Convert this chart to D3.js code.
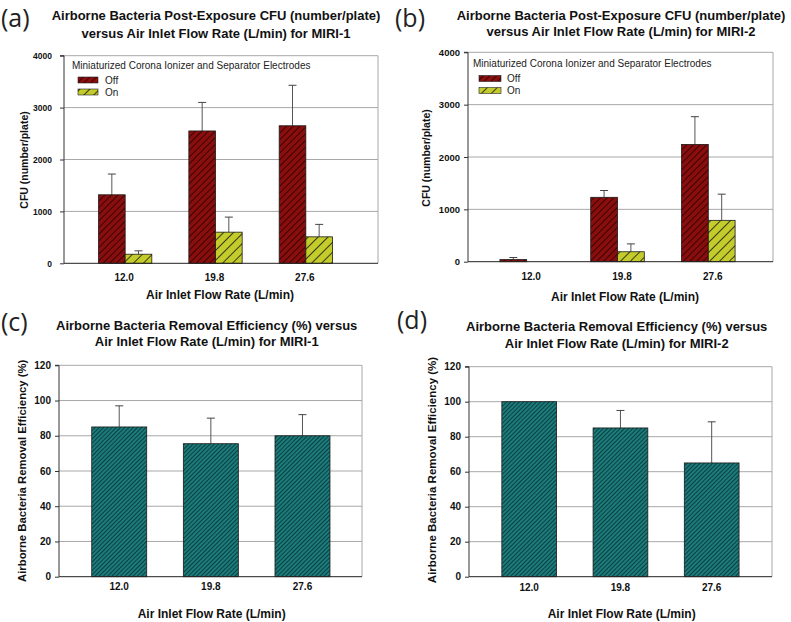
<!DOCTYPE html>
<html><head><meta charset="utf-8">
<script src="https://cdn.jsdelivr.net/npm/d3@7"></script>
<style>
body{margin:0;background:#fff}
svg{display:block}
text{font-family:"Liberation Sans",Arial,sans-serif}
</style>
</head><body>
<svg id="chart" width="791" height="622"></svg>
<script>
// ---------- data ----------
const categories = ["12.0", "19.8", "27.6"];
const seriesNames = ["Off", "On"];
const miri1Off = [1320, 2550, 2650];
const miri1OffErr = [400, 550, 780];
const miri1On = [175, 600, 510];
const miri1OnErr = [65, 290, 240];
const miri2Off = [40, 1230, 2240];
const miri2OffErr = [40, 130, 530];
const miri2On = [0, 190, 790];
const miri2OnErr = [0, 150, 500];
const eff1 = [85, 75.5, 80];
const eff1Err = [12, 14.5, 12];
const eff2 = [100, 85, 65];
const eff2Err = [0, 10, 23.5];
const cfuTicks = [0, 1000, 2000, 3000, 4000];
const effTicks = [0, 20, 40, 60, 80, 100, 120];
const legendTitle = "Miniaturized Corona Ionizer and Separator Electrodes";
const xTitle = "Air Inlet Flow Rate (L/min)";

// ---------- styles ----------
const svg = d3.select("#chart");
const defs = svg.append("defs");
function hatch(id, fill, line, spacing, lw) {
  const p = defs.append("pattern").attr("id", id)
    .attr("patternUnits", "userSpaceOnUse")
    .attr("width", spacing).attr("height", spacing)
    .attr("patternTransform", "rotate(45)");
  p.append("rect").attr("width", spacing).attr("height", spacing).attr("fill", fill);
  p.append("line").attr("x1", 0.5).attr("y1", 0).attr("x2", 0.5).attr("y2", spacing)
    .attr("stroke", line).attr("stroke-width", lw);
}
hatch("hOff", "#8a0e0e", "#3a0303", 4.7, 1);
hatch("hOn", "#c4cc2c", "#2a2a10", 7, 0.9);
hatch("hTeal", "#1c7c7c", "#0a3838", 3, 0.9);
const fills = {Off: "url(#hOff)", On: "url(#hOn)", Eff: "url(#hTeal)"};

// ---------- panel layouts ----------
const panels = [
  {letter: "(a)", lx: 1, ly: 27,
   title: ["Airborne Bacteria Post-Exposure CFU (number/plate)", "versus Air Inlet Flow Rate (L/min) for MIRI-1"],
   tx: 216, ty: [20, 37.5],
   frame: {l: 64, r: 378, t: 55.7, b: 263.3}, band: [80, 351], inner: 0.41, outer: 0.205,
   yTicks: cfuTicks, yMax: 4000, ytSize: 8.5, tickPad: 8,
   ylab: "CFU (number/plate)", ylx: 24, yly: 160, ylSize: 10.5,
   xtY: 280.5, xtDx: -1, xtSize: 10, xTitleX: 220, xTitleY: 299,
   grouped: true, series: [[miri1Off, miri1OffErr], [miri1On, miri1OnErr]],
   legend: {x: 72, y: 68.5, sx: 78, sw: 20, sy: [77, 89], tx: 105}},
  {letter: "(b)", lx: 395, ly: 27,
   title: ["Airborne Bacteria Post-Exposure CFU (number/plate)", "versus Air Inlet Flow Rate (L/min) for MIRI-2"],
   tx: 621, ty: [19.5, 36],
   frame: {l: 468, r: 773, t: 52.3, b: 261.7}, band: [481.3, 753.7], inner: 0.41, outer: 0.205,
   yTicks: cfuTicks, yMax: 4000, ytSize: 9.5, tickPad: 4,
   ylab: "CFU (number/plate)", ylx: 426, yly: 158, ylSize: 10.5,
   xtY: 279.5, xtDx: 4.5, xtSize: 10, xTitleX: 625, xTitleY: 300.5,
   grouped: true, series: [[miri2Off, miri2OffErr], [miri2On, miri2OnErr]],
   legend: {x: 473, y: 66.5, sx: 479, sw: 22, sy: [75.5, 87.5], tx: 507}},
  {letter: "(c)", lx: 1, ly: 331,
   title: ["Airborne Bacteria Removal Efficiency (%) versus", "Air Inlet Flow Rate (L/min) for MIRI-1"],
   tx: 206.7, ty: [329.6, 346],
   frame: {l: 59, r: 362, t: 365.3, b: 576.7}, band: [73.4, 348.3], inner: 0.4, outer: 0.2,
   yTicks: effTicks, yMax: 120, ytSize: 10, tickPad: 4,
   ylab: "Airborne Bacteria Removal Efficiency (%)", ylx: 22, yly: 470.8, ylSize: 11.3,
   xtY: 590, xtDx: 0, xtSize: 10, xTitleX: 211.7, xTitleY: 617.5,
   grouped: false, series: [[eff1, eff1Err]]},
  {letter: "(d)", lx: 397, ly: 329,
   title: ["Airborne Bacteria Removal Efficiency (%) versus", "Air Inlet Flow Rate (L/min) for MIRI-2"],
   tx: 616.7, ty: [331, 348],
   frame: {l: 469, r: 772, t: 366.7, b: 576.7}, band: [483.6, 757.3], inner: 0.4, outer: 0.2,
   yTicks: effTicks, yMax: 120, ytSize: 10, tickPad: 4,
   ylab: "Airborne Bacteria Removal Efficiency (%)", ylx: 431.7, yly: 470, ylSize: 11.5,
   xtY: 591, xtDx: 0, xtSize: 10, xTitleX: 621.7, xTitleY: 618,
   grouped: false, series: [[eff2, eff2Err]]}
];

function drawPanel(P) {
  const g = svg.append("g");
  const F = P.frame;
  // panel letter
  g.append("text").attr("x", P.lx).attr("y", P.ly)
    .style("font-family", "'Open Sans','Noto Sans',sans-serif").style("font-size", "25px")
    .attr("fill", "#222").text(P.letter);
  // title
  P.title.forEach((t, i) => g.append("text").attr("x", P.tx).attr("y", P.ty[i])
    .attr("text-anchor", "middle").style("font-size", "13px").style("font-weight", "bold")
    .attr("fill", "#111").text(t));

  const y = d3.scaleLinear().domain([0, P.yMax]).range([F.b, F.t]);
  const x = d3.scaleBand().domain(categories).range(P.band)
    .paddingInner(P.inner).paddingOuter(P.outer);

  // gridlines
  g.append("g").selectAll("line").data(P.yTicks.filter(d => d > 0)).join("line")
    .attr("x1", F.l).attr("x2", F.r).attr("y1", d => y(d)).attr("y2", d => y(d))
    .attr("stroke", "#a8a8a8").attr("stroke-width", 1);
  // right border
  g.append("line").attr("x1", F.r).attr("x2", F.r).attr("y1", F.t).attr("y2", F.b)
    .attr("stroke", "#a8a8a8");

  // bars
  const bars = [];
  if (P.grouped) {
    const xs = d3.scaleBand().domain(seriesNames).range([0, x.bandwidth()]);
    P.series.forEach(([vals, errs], si) => {
      categories.forEach((c, ci) => bars.push({
        x: x(c) + xs(seriesNames[si]), w: xs.bandwidth(), v: vals[ci], e: errs[ci], fill: fills[seriesNames[si]]}));
    });
  } else {
    const [vals, errs] = P.series[0];
    categories.forEach((c, ci) => bars.push({x: x(c), w: x.bandwidth(), v: vals[ci], e: errs[ci], fill: fills.Eff}));
  }
  const bg = g.append("g");
  bg.selectAll("g.err").data(bars.filter(d => d.e > 0)).join("g").attr("class", "err")
    .each(function (d) {
      const cx = d.x + d.w / 2;
      const s = d3.select(this);
      s.append("line").attr("x1", cx).attr("x2", cx).attr("y1", y(d.v)).attr("y2", y(d.v + d.e))
        .attr("stroke", "#555").attr("stroke-width", 1);
      s.append("line").attr("x1", cx - 4).attr("x2", cx + 4).attr("y1", y(d.v + d.e)).attr("y2", y(d.v + d.e))
        .attr("stroke", "#444").attr("stroke-width", 1);
    });
  bg.selectAll("rect").data(bars.filter(d => d.v > 0)).join("rect")
    .attr("x", d => d.x).attr("width", d => d.w)
    .attr("y", d => y(d.v)).attr("height", d => F.b - y(d.v))
    .attr("fill", d => d.fill).attr("stroke", "#1a1a1a").attr("stroke-width", 0.8);

  // y axis
  const ya = g.append("g").attr("transform", `translate(${F.l},0)`)
    .call(d3.axisLeft(y).tickValues(P.yTicks).tickSize(4).tickPadding(P.tickPad).tickFormat(d3.format("d")));
  ya.select(".domain").attr("stroke", "#333").attr("d", `M-4,${F.t}H0V${F.b}`);
  ya.selectAll(".tick line").attr("stroke", "#333");
  ya.selectAll(".tick text").style("font-size", P.ytSize + "px").style("font-weight", "bold")
    .style("font-family", "'Liberation Sans',Arial,sans-serif").attr("fill", "#111");
  // x axis line
  g.append("line").attr("x1", F.l).attr("x2", F.r).attr("y1", F.b).attr("y2", F.b)
    .attr("stroke", "#222").attr("stroke-width", 1);
  // x tick labels
  g.append("g").selectAll("text").data(categories).join("text")
    .attr("x", d => x(d) + x.bandwidth() / 2 + P.xtDx).attr("y", P.xtY)
    .attr("text-anchor", "middle").style("font-size", P.xtSize + "px").style("font-weight", "bold")
    .attr("fill", "#111").text(d => d);
  // axis titles
  g.append("text").attr("x", P.xTitleX).attr("y", P.xTitleY).attr("text-anchor", "middle")
    .style("font-size", "12px").style("font-weight", "bold").attr("fill", "#111").text(xTitle);
  g.append("text").attr("transform", `translate(${P.ylx},${P.yly}) rotate(-90)`)
    .attr("text-anchor", "middle").attr("dy", "0.35em")
    .style("font-size", P.ylSize + "px").style("font-weight", "bold").attr("fill", "#111").text(P.ylab);

  // legend
  if (P.legend) {
    const L = P.legend;
    g.append("text").attr("x", L.x).attr("y", L.y).style("font-size", "10px").attr("fill", "#222").text(legendTitle);
    seriesNames.forEach((s, i) => {
      g.append("rect").attr("x", L.sx).attr("y", L.sy[i]).attr("width", L.sw).attr("height", 6)
        .attr("fill", fills[s]).attr("stroke", "#222").attr("stroke-width", 0.6);
      g.append("text").attr("x", L.tx).attr("y", L.sy[i] + 6.5).style("font-size", "10px")
        .attr("fill", "#222").text(s);
    });
  }
}
panels.forEach(drawPanel);
</script>
</body></html>
